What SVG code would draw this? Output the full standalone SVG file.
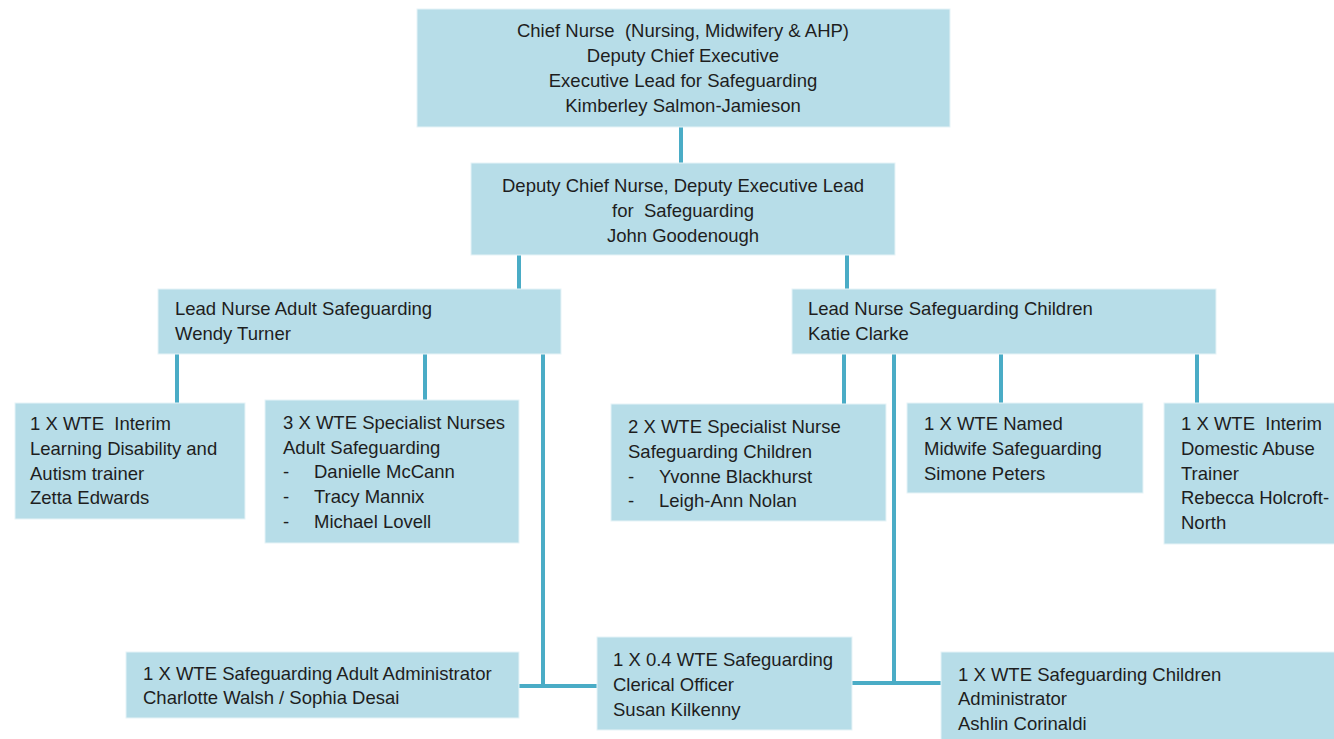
<svg xmlns="http://www.w3.org/2000/svg" width="1334" height="739" viewBox="0 0 1334 739">
<style>
.box{fill:#b7dde8;stroke:#e6f3f7;stroke-width:1}
.t{font-family:"Liberation Sans",Arial,sans-serif;font-size:18.5px;fill:#1e1e1e;white-space:pre}
.c{text-anchor:middle}
.ln{stroke:#4aacc6;stroke-width:4;fill:none}
</style>
<rect width="1334" height="739" fill="#ffffff"/>
<g id="connectors">
<line class="ln" x1="681" y1="127" x2="681" y2="163"/>
<line class="ln" x1="519" y1="255" x2="519" y2="289"/>
<line class="ln" x1="847" y1="255" x2="847" y2="289"/>
<line class="ln" x1="177" y1="354" x2="177" y2="403"/>
<line class="ln" x1="425" y1="354" x2="425" y2="400"/>
<line class="ln" x1="543" y1="354" x2="543" y2="688"/>
<line class="ln" x1="519" y1="686" x2="598" y2="686"/>
<line class="ln" x1="844" y1="354" x2="844" y2="404"/>
<line class="ln" x1="1001" y1="354" x2="1001" y2="403"/>
<line class="ln" x1="1197" y1="354" x2="1197" y2="403"/>
<line class="ln" x1="894" y1="354" x2="894" y2="685"/>
<line class="ln" x1="852" y1="683" x2="941" y2="683"/>
</g>
<g id="chief">
<rect class="box" x="417" y="9" width="533" height="118"/>
<text class="t c" x="683" y="37" xml:space="preserve">Chief Nurse  (Nursing, Midwifery &amp; AHP)</text>
<text class="t c" x="683" y="62">Deputy Chief Executive</text>
<text class="t c" x="683" y="87">Executive Lead for Safeguarding</text>
<text class="t c" x="683" y="112">Kimberley Salmon-Jamieson</text>
</g>
<g id="deputy">
<rect class="box" x="471" y="163" width="424" height="92"/>
<text class="t c" x="683" y="192">Deputy Chief Nurse, Deputy Executive Lead</text>
<text class="t c" x="683" y="217" xml:space="preserve">for  Safeguarding</text>
<text class="t c" x="683" y="242">John Goodenough</text>
</g>
<g id="lead-adult">
<rect class="box" x="158" y="289" width="403" height="65"/>
<text class="t" x="175" y="315">Lead Nurse Adult Safeguarding</text>
<text class="t" x="175" y="340">Wendy Turner</text>
</g>
<g id="lead-children">
<rect class="box" x="792" y="289" width="424" height="65"/>
<text class="t" x="808" y="315">Lead Nurse Safeguarding Children</text>
<text class="t" x="808" y="340">Katie Clarke</text>
</g>
<g id="ld-trainer">
<rect class="box" x="15" y="403" width="230" height="116"/>
<text class="t" x="30" y="430" xml:space="preserve">1 X WTE  Interim</text>
<text class="t" x="30" y="455">Learning Disability and</text>
<text class="t" x="30" y="480">Autism trainer</text>
<text class="t" x="30" y="504">Zetta Edwards</text>
</g>
<g id="adult-specialists">
<rect class="box" x="265" y="400" width="254" height="143"/>
<text class="t" x="283" y="429">3 X WTE Specialist Nurses</text>
<text class="t" x="283" y="454">Adult Safeguarding</text>
<text class="t" x="283" y="478">-</text><text class="t" x="314" y="478">Danielle McCann</text>
<text class="t" x="283" y="503">-</text><text class="t" x="314" y="503">Tracy Mannix</text>
<text class="t" x="283" y="528">-</text><text class="t" x="314" y="528">Michael Lovell</text>
</g>
<g id="child-specialists">
<rect class="box" x="611" y="404" width="275" height="117"/>
<text class="t" x="628" y="433">2 X WTE Specialist Nurse</text>
<text class="t" x="628" y="458">Safeguarding Children</text>
<text class="t" x="628" y="483">-</text><text class="t" x="659" y="483">Yvonne Blackhurst</text>
<text class="t" x="628" y="507">-</text><text class="t" x="659" y="507">Leigh-Ann Nolan</text>
</g>
<g id="midwife">
<rect class="box" x="907" y="403" width="236" height="90"/>
<text class="t" x="924" y="430">1 X WTE Named</text>
<text class="t" x="924" y="455">Midwife Safeguarding</text>
<text class="t" x="924" y="480">Simone Peters</text>
</g>
<g id="da-trainer">
<rect class="box" x="1164" y="403" width="172" height="141"/>
<text class="t" x="1181" y="430" xml:space="preserve">1 X WTE  Interim</text>
<text class="t" x="1181" y="455">Domestic Abuse</text>
<text class="t" x="1181" y="480">Trainer</text>
<text class="t" x="1181" y="504">Rebecca Holcroft-</text>
<text class="t" x="1181" y="529">North</text>
</g>
<g id="adult-admin">
<rect class="box" x="126" y="652" width="393" height="66"/>
<text class="t" x="143" y="680">1 X WTE Safeguarding Adult Administrator</text>
<text class="t" x="143" y="704">Charlotte Walsh / Sophia Desai</text>
</g>
<g id="clerical">
<rect class="box" x="597" y="637" width="255" height="93"/>
<text class="t" x="613" y="666">1 X 0.4 WTE Safeguarding</text>
<text class="t" x="613" y="691">Clerical Officer</text>
<text class="t" x="613" y="716">Susan Kilkenny</text>
</g>
<g id="children-admin">
<rect class="box" x="941" y="652" width="395" height="89"/>
<text class="t" x="958" y="681">1 X WTE Safeguarding Children</text>
<text class="t" x="958" y="705">Administrator</text>
<text class="t" x="958" y="730">Ashlin Corinaldi</text>
</g>
</svg>
